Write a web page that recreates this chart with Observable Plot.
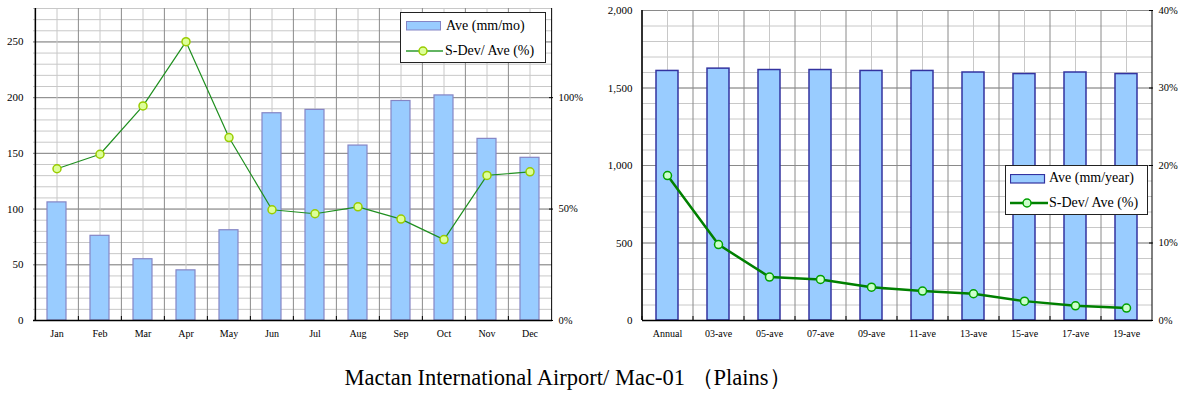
<!DOCTYPE html>
<html>
<head>
<meta charset="utf-8">
<script src="https://cdn.jsdelivr.net/npm/d3@7"></script>
<script src="https://cdn.jsdelivr.net/npm/@observablehq/plot@0.6"></script>
<style>
  html, body { margin: 0; padding: 0; background: #fff; }
  #wrap { position: relative; width: 1179px; height: 403px; overflow: hidden; font-family: "Liberation Serif", "Times New Roman", serif; }
  .chart { position: absolute; top: 0; }
  .chart svg text { font-family: "Liberation Serif", "Times New Roman", serif; }
  .legend { position: absolute; background: #fff; border: 1px solid #222; box-sizing: border-box; font-size: 14px; color: #000; }
  .legend svg { position: absolute; }
  .legend span { position: absolute; line-height: 14px; white-space: nowrap; }
  #title { position: absolute; top: 367px; left: 568px; transform: translateX(-50%); font-size: 22.5px; line-height: 22px; white-space: nowrap; color: #000; }
</style>
</head>
<body>
<div id="wrap">
  <div id="left" class="chart" style="left:0px"></div>
  <div id="right" class="chart" style="left:590px"></div>
  <div class="legend" style="left:400px; top:12px; width:146px; height:51px;">
    <svg style="left:5px; top:8px" width="36" height="10"><rect x="0.5" y="0.5" width="34" height="8.5" fill="#99CCFF" stroke="#8585c5"/></svg>
    <span style="left:45px; top:6px">Ave (mm/mo)</span>
    <svg style="left:5px; top:32px" width="38" height="12"><line x1="0" y1="6" x2="37" y2="6" stroke="#2e9b2e" stroke-width="1.5"/><circle cx="17" cy="6" r="4" fill="#ddff99" stroke="#99cc00" stroke-width="1.5"/></svg>
    <span style="left:44px; top:31px">S-Dev/ Ave (%)</span>
  </div>
  <div class="legend" style="left:1005px; top:165px; width:143px; height:50px;">
    <svg style="left:4px; top:8px" width="36" height="10"><rect x="0.5" y="0.5" width="34" height="8.5" fill="#99CCFF" stroke="#3333a0" stroke-width="1.2"/></svg>
    <span style="left:43px; top:5px">Ave (mm/year)</span>
    <svg style="left:4px; top:31px" width="40" height="12"><line x1="0" y1="6" x2="38" y2="6" stroke="#008000" stroke-width="2.5"/><circle cx="17" cy="6" r="4" fill="#ccffcc" stroke="#00a000" stroke-width="1.5"/></svg>
    <span style="left:43px; top:30px">S-Dev/ Ave (%)</span>
  </div>
  <div id="title">Mactan International Airport/ Mac-01 （Plains）</div>
</div>
<script>
// ---- Data ----
const months = ["Jan","Feb","Mar","Apr","May","Jun","Jul","Aug","Sep","Oct","Nov","Dec"];
const monthAve = [106, 76, 55, 45, 81, 186, 189, 157, 197, 202, 163, 146];
const monthCv = [68.1, 74.6, 96.3, 125.1, 82.1, 49.7, 47.9, 51.0, 45.5, 36.3, 65.1, 66.7];

const periods = ["Annual","03-ave","05-ave","07-ave","09-ave","11-ave","13-ave","15-ave","17-ave","19-ave"];
const periodAve = [1610, 1625, 1616, 1616, 1610, 1610, 1600, 1590, 1600, 1590];
const periodCv = [18.7, 9.8, 5.6, 5.3, 4.3, 3.8, 3.45, 2.5, 1.9, 1.6];

const leftTicks = [0, 50, 100, 150, 200, 250];
const leftPctTicks = [0, 50, 100];
const rightTicks = [0, 500, 1000, 1500, 2000];
const rightPctTicks = [0, 10, 20, 30, 40];

// ---- Chart builder ----
function combo(opts) {
  const {cats, ave, cv, yMax, pctFactor, ticks, pctTicks, minorStep, majorStep,
         width, height, ml, mr, mt, mb, barStroke, barStrokeWidth,
         lineStroke, lineWidth, dotFill, dotStroke, yFormat, leftPad, rightPad} = opts;
  const rows = cats.map((c, i) => ({c, ave: ave[i], cv: cv[i]}));
  const step = (width - ml - mr) / cats.length;
  const minor = d3.range(0, yMax + 1e-9, minorStep);
  const major = d3.range(0, yMax + 1e-9, majorStep);
  return Plot.plot({
    width, height,
    marginLeft: ml, marginRight: mr, marginTop: mt, marginBottom: mb,
    x: {domain: cats, paddingInner: 0.56, paddingOuter: 0.28, axis: null, label: null},
    y: {domain: [0, yMax], axis: null, label: null},
    style: "font-family: 'Liberation Serif', 'Times New Roman', serif; background: transparent; color: #000;",
    marks: [
      Plot.ruleY(minor, {stroke: "#c8c8c8", strokeWidth: 1}),
      Plot.ruleY(major, {stroke: "#8a8a8a", strokeWidth: 1}),
      Plot.ruleX(cats, {stroke: "#c8c8c8", strokeWidth: 1}),
      Plot.ruleX(cats, {stroke: "#8a8a8a", strokeWidth: 1, dx: -step / 2}),
      Plot.barY(rows, {x: "c", y: "ave", fill: "#99CCFF", stroke: barStroke, strokeWidth: barStrokeWidth}),
      Plot.lineY(rows, {x: "c", y: d => d.cv * pctFactor, stroke: lineStroke, strokeWidth: lineWidth}),
      Plot.dot(rows, {x: "c", y: d => d.cv * pctFactor, r: 4, fill: dotFill, stroke: dotStroke, strokeWidth: 1.5}),
      // axis lines
      Plot.ruleY([0], {stroke: "#000", strokeWidth: 1.5}),
      Plot.ruleX([cats[0]], {stroke: "#000", strokeWidth: 1.5, dx: -step / 2}),
      Plot.ruleX([cats[cats.length - 1]], {stroke: "#000", strokeWidth: 1, dx: step / 2}),
      Plot.axisY(ticks, {anchor: "left", label: null, tickSize: 0, tickPadding: leftPad, fontSize: 11, tickFormat: yFormat}),
      Plot.axisY(pctTicks.map(p => p * pctFactor), {anchor: "right", label: null, tickSize: -4, stroke: "#000", tickPadding: rightPad + 4, fontSize: 10.5, tickFormat: d => Math.round(d / pctFactor) + "%"}),
      Plot.axisX(cats, {label: null, tickSize: 0, tickPadding: 9, fontSize: 10}),
      Plot.axisX(cats, {label: null, tickSize: -4, stroke: "#000", tickFormat: () => "", dx: -step / 2})
    ]
  });
}

document.getElementById("left").append(combo({
  cats: months, ave: monthAve, cv: monthCv, yMax: 280, pctFactor: 2,
  ticks: leftTicks, pctTicks: leftPctTicks, minorStep: 10, majorStep: 50,
  width: 590, height: 350, ml: 33, mr: 38, mt: 8, mb: 30,
  barStroke: "#8585c5", barStrokeWidth: 1.2,
  lineStroke: "#1f8f1f", lineWidth: 1.2, dotFill: "#ddff99", dotStroke: "#99cc00",
  yFormat: d => String(d), leftPad: 10, rightPad: 6
}));

document.getElementById("right").append(combo({
  cats: periods, ave: periodAve, cv: periodCv, yMax: 2000, pctFactor: 50,
  ticks: rightTicks, pctTicks: rightPctTicks, minorStep: 100, majorStep: 500,
  width: 589, height: 350, ml: 52, mr: 27, mt: 10, mb: 30,
  barStroke: "#3333a0", barStrokeWidth: 1.5,
  lineStroke: "#008000", lineWidth: 2.5, dotFill: "#ccffcc", dotStroke: "#00a000",
  yFormat: d3.format(","), leftPad: 10, rightPad: 6
}));
</script>
</body>
</html>
